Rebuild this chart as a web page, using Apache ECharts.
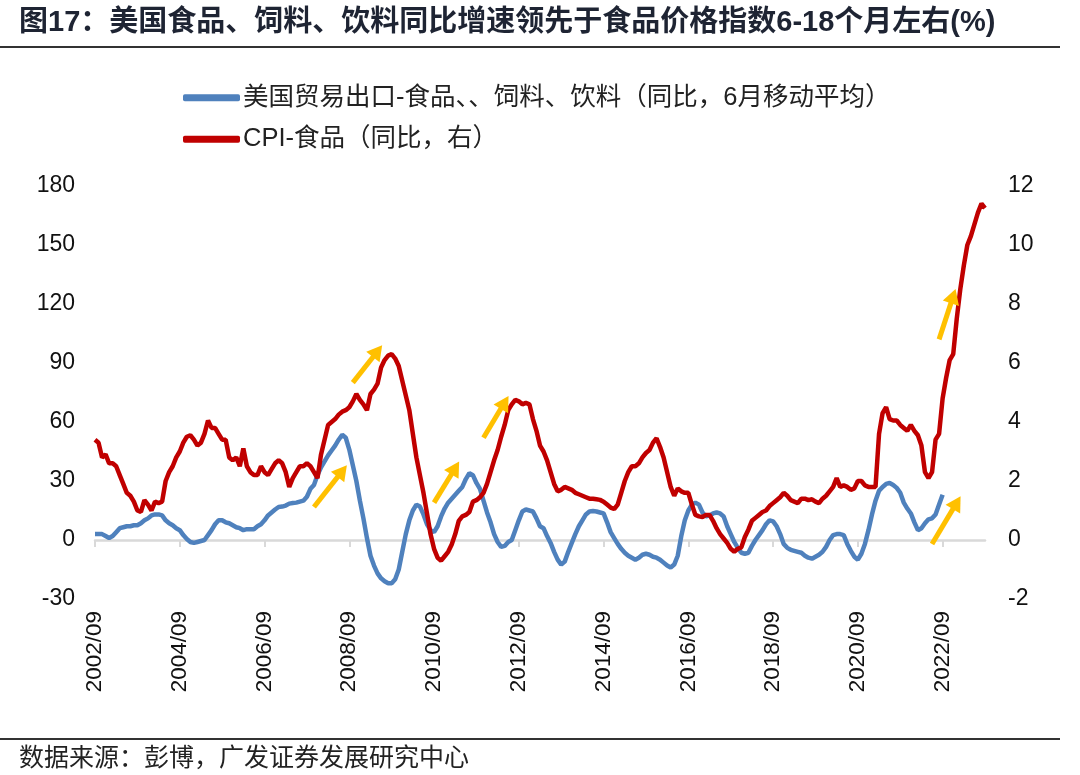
<!DOCTYPE html>
<html>
<head>
<meta charset="utf-8">
<script src="https://cdn.jsdelivr.net/npm/echarts@6.0.0/dist/echarts.min.js"></script>
<style>
html,body{margin:0;padding:0;background:#fff;}
#chart{width:1080px;height:775px;}
</style>
</head>
<body>
<div id="chart"></div>
<script>
// Categories: monthly, 2002/09 .. 2023/09
const startYear = 2002, startMonth = 9, monthCount = 253;
const categories = [];
for (let i = 0; i < monthCount; i++) {
  const m = startMonth - 1 + i;
  const y = startYear + Math.floor(m / 12);
  const mm = (m % 12) + 1;
  categories.push(y + '/' + (mm < 10 ? '0' + mm : mm));
}

const leftTicks = { min: -30, max: 180, interval: 30 };
const rightTicks = { min: -2, max: 12, interval: 2 };

// 美国贸易出口-食品、饲料、饮料（同比，6月移动平均） — left axis
const exportYoY = [
  3,3,3,2,1,2,4,6,6.5,7,7,7.5,7.5,8.5,10,11,12.5,13,13,12.5,
  10,8.5,7.5,6,5,2.5,0.5,-1,-1.5,-1,-0.5,0,2.5,5,8,10,10,9,8.5,7.5,
  6.5,6,5,5.5,5.5,5.5,7,8,10,12.5,14,15.5,16.8,17,17.5,18.5,18.8,19,19.5,20,
  22,26,28,33,37,40,43,45.5,48,51,53.5,52,46,38,30,20,11,1,-8,-13,
  -17,-19.5,-21,-22,-22,-20,-15,-6,3,10,15,18,17,13,8,5,4,7,12,16,
  19,21,23,25,27,31,34,33,29,26,20,14,9,3,-1,-3.5,-3,-1,0,5,
  10,14.5,15.5,15,14.5,11,7,6,2,-1.5,-6,-10,-12.5,-11,-6,-1.5,3,7,10,13,
  14.5,14.7,14.5,14,13.5,9,4,1,-2,-4.5,-6.5,-8,-9,-10,-9,-7.5,-7,-7.5,-8.5,-9,
  -10,-11.5,-13,-14,-12.5,-8,2,10,15,18,19,18,14,12,12.5,13.5,14,13.5,12,7,
  3,-1,-4,-6.5,-7,-6.5,-3,0,2.5,5,8,10,9.5,7,3,-2,-4,-5,-5.5,-6,
  -6.5,-8,-9,-9.5,-8.5,-7.5,-6,-3.5,0,2.5,3,3,2.5,-2,-5.5,-8.5,-10,-7,-2,5,
  13,20,25,27,28.5,29,28,26.5,24,19,16,13.5,9,5,6,8.5,10.5,11,13,18,
  23
];

// CPI-食品（同比，右） — right axis
const cpiFoodYoY = [
  3.4,3.3,2.8,2.9,2.6,2.6,2.5,2.2,1.9,1.6,1.5,1.3,1.0,0.95,1.35,1.2,1.0,1.3,1.25,1.3,
  2.0,2.3,2.5,2.8,3.0,3.3,3.5,3.55,3.4,3.2,3.3,3.6,4.05,3.8,3.8,3.6,3.4,3.4,2.8,2.7,
  2.8,2.5,3.1,2.5,2.3,2.2,2.2,2.5,2.3,2.2,2.4,2.6,2.7,2.6,2.3,1.8,2.1,2.3,2.5,2.5,
  2.6,2.5,2.3,2.1,2.9,3.4,3.9,4.0,4.1,4.25,4.35,4.4,4.5,4.7,4.95,4.75,4.6,4.4,4.95,5.1,
  5.3,5.85,6.1,6.25,6.3,6.15,5.9,5.4,4.9,4.4,3.6,2.8,2.2,1.6,0.9,0.2,-0.3,-0.6,-0.7,-0.55,
  -0.4,-0.15,0.2,0.65,0.8,0.85,0.95,1.3,1.35,1.45,1.6,1.9,2.3,2.7,3.05,3.5,3.9,4.4,4.6,4.75,
  4.7,4.6,4.65,4.6,4.1,3.7,3.2,3.0,2.7,2.3,1.9,1.65,1.7,1.8,1.75,1.7,1.6,1.55,1.5,1.45,
  1.4,1.4,1.38,1.36,1.3,1.2,1.1,1.05,1.2,1.6,2.0,2.3,2.5,2.5,2.6,2.8,2.95,3.05,3.3,3.45,
  3.15,2.8,2.3,1.8,1.5,1.75,1.65,1.6,1.6,1.2,0.85,0.8,0.78,0.85,0.85,0.65,0.4,0.2,0.05,-0.1,
  -0.3,-0.4,-0.3,-0.25,0.1,0.35,0.65,0.75,0.85,0.95,1.0,1.15,1.25,1.35,1.45,1.6,1.5,1.35,1.3,1.25,
  1.4,1.4,1.35,1.38,1.3,1.25,1.4,1.5,1.65,1.8,2.1,1.8,1.85,1.8,1.7,1.75,2.0,2.0,1.85,1.8,
  1.8,1.8,3.6,4.3,4.5,4.1,4.05,4.05,3.9,3.8,3.7,3.9,3.7,3.55,3.2,2.3,2.1,2.3,3.4,3.6,
  4.8,5.5,6.1,6.3,7.5,8.5,9.3,10.0,10.3,10.7,11.1,11.4,11.25
];

// Yellow annotation arrows, in data coordinates [category index, left-axis value]
const arrowStarts = [[62, 16.8], [73, 80], [96, 19], [110, 52], [239, 102], [237, -2]];
const arrowEnds   = [[70, 35],   [80, 96], [102, 36.6], [116, 70], [243, 124], [244, 19]];

const seriesNames = ['美国贸易出口-食品、、饲料、饮料（同比，6月移动平均）', 'CPI-食品（同比，右）'];
const titleText = '图17：美国食品、饲料、饮料同比增速领先于食品价格指数6-18个月左右(%)';
const sourceText = '数据来源：彭博，广发证券发展研究中心';

const FONT = "'Liberation Sans','Noto Sans CJK SC',sans-serif";
const CJK = "'Noto Sans CJK SC','Liberation Sans',sans-serif";

const chart = echarts.init(document.getElementById('chart'), null, { renderer: 'canvas' });

const arrowData = arrowStarts.map((s, i) => [{ coord: s }, { coord: arrowEnds[i] }]);

chart.setOption({
  animation: false,
  backgroundColor: '#fff',
  title: [{
    text: titleText,
    left: 14, top: 3,
    textStyle: { fontFamily: FONT, fontSize: 29, fontWeight: 'bold', color: '#1e2433' }
  }, {
    text: sourceText,
    left: 14, top: 739,
    textStyle: { fontFamily: CJK, fontSize: 25, fontWeight: 'normal', color: '#222' }
  }],
  graphic: [
    { type: 'line', shape: { x1: 0, y1: 47, x2: 1060, y2: 47 }, style: { stroke: '#333', lineWidth: 2 } },
    { type: 'line', shape: { x1: 0, y1: 739, x2: 1060, y2: 739 }, style: { stroke: '#333', lineWidth: 2 } }
  ],
  legend: {
    orient: 'vertical',
    left: 178, top: 80,
    itemGap: 16,
    itemWidth: 57, itemHeight: 7,
    icon: 'roundRect',
    textStyle: { fontFamily: FONT, fontSize: 25.5, color: '#222', padding: [0, 0, 0, -2] },
    data: seriesNames
  },
  grid: { left: 95, right: 95, top: 186, bottom: 176 },
  xAxis: [{
    type: 'category',
    data: categories,
    boundaryGap: false,
    axisLine: { show: true, onZero: true, lineStyle: { color: '#d9d9d9', width: 2.5 } },
    axisTick: { show: true, interval: 23, length: 7, lineStyle: { color: '#d9d9d9', width: 2 } },
    axisLabel: { show: false },
    splitLine: { show: false }
  }, {
    type: 'category',
    data: categories,
    boundaryGap: false,
    position: 'bottom',
    axisLine: { show: false, onZero: false },
    axisTick: { show: false },
    axisLabel: { show: true, interval: 23, rotate: 90, margin: 12, fontFamily: FONT, fontSize: 22.5, color: '#111' },
    splitLine: { show: false }
  }],
  yAxis: [{
    type: 'value',
    min: leftTicks.min, max: leftTicks.max, interval: leftTicks.interval,
    axisLine: { show: false }, axisTick: { show: false }, splitLine: { show: false },
    axisLabel: { margin: 20, fontFamily: FONT, fontSize: 23, color: '#111' }
  }, {
    type: 'value',
    position: 'right',
    min: rightTicks.min, max: rightTicks.max, interval: rightTicks.interval,
    axisLine: { show: false }, axisTick: { show: false }, splitLine: { show: false },
    axisLabel: { margin: 23, fontFamily: FONT, fontSize: 23, color: '#111' }
  }],
  series: [{
    name: seriesNames[0],
    type: 'line',
    xAxisIndex: 0, yAxisIndex: 0,
    data: exportYoY,
    showSymbol: false, symbol: 'none',
    lineStyle: { color: '#4f81bd', width: 4.5 },
    itemStyle: { color: '#4f81bd' },
    markLine: {
      silent: true,
      symbol: ['none', 'triangle'],
      symbolSize: [17, 15],
      label: { show: false },
      lineStyle: { color: '#ffc000', width: 5, type: 'solid' },
      emphasis: { disabled: true },
      data: arrowData
    },
    z: 3
  }, {
    name: seriesNames[1],
    type: 'line',
    xAxisIndex: 0, yAxisIndex: 1,
    data: cpiFoodYoY,
    showSymbol: false, symbol: 'none',
    lineStyle: { color: '#c00000', width: 4.5 },
    itemStyle: { color: '#c00000' },
    z: 4
  }]
});
</script>
</body>
</html>
